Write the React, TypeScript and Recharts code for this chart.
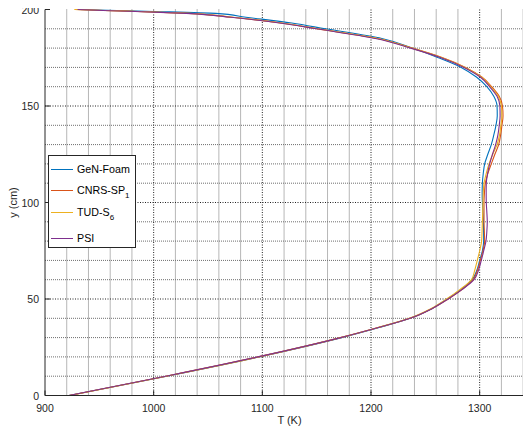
import { LineChart, Line, XAxis, YAxis, CartesianGrid, Legend } from 'recharts';

const FONT = '"Liberation Sans", Arial, Helvetica, sans-serif';

// height along the channel (cm)
const yPos = [0, 10, 20, 30, 35, 40, 45, 50, 55, 60, 65, 70, 75, 80, 85, 90, 95, 100, 105, 110, 115, 120, 125, 130, 135, 140, 145, 150, 155, 160, 165, 170, 175, 180, 185, 190, 193, 196, 198, 199, 199.5, 200];

// temperature (K) at yPos
const tGenFoam = [922, 1012, 1097, 1173, 1206, 1236, 1256, 1270, 1283, 1293, 1297.5, 1300, 1302.5, 1303.7, 1303.6, 1303.4, 1303, 1302.5, 1302.3, 1302.5, 1303.3, 1304.6, 1307.5, 1310.7, 1313, 1315, 1316.2, 1316, 1313, 1306.6, 1297, 1283, 1262, 1238, 1210, 1158, 1127, 1085, 1057, 1000, 966, 932];
const tCnrsSp1 = [922, 1011, 1096, 1172, 1205, 1236, 1256, 1271, 1284, 1294, 1298, 1300.6, 1303, 1304.6, 1304.3, 1304, 1304, 1304, 1304.4, 1305.2, 1307.5, 1310.7, 1314, 1317.5, 1319.3, 1320.5, 1321.5, 1321, 1318, 1311, 1302, 1287, 1266, 1238, 1206, 1150, 1117, 1072, 1032, 985, 955, 928];
const tTudS6 = [923, 1012, 1097, 1172, 1205, 1235, 1255, 1269.5, 1282, 1292.4, 1295.5, 1297.8, 1300, 1301.8, 1302.2, 1302.5, 1302.8, 1303, 1303.3, 1304, 1306, 1308.6, 1312, 1316, 1318.3, 1319.5, 1320.5, 1320, 1317, 1310, 1301.5, 1286.5, 1265.5, 1237.5, 1206, 1151, 1118, 1073, 1033, 986, 955, 927];
const tPsi = [922, 1011, 1096, 1172, 1205, 1236, 1256, 1271, 1284, 1294.8, 1299, 1301.5, 1303.7, 1305.8, 1306.6, 1307, 1306.6, 1306.1, 1306, 1306.1, 1307.3, 1309.2, 1311.8, 1314.7, 1316.8, 1318, 1318.8, 1318.6, 1316, 1309.2, 1300.5, 1285.5, 1264.5, 1236.5, 1204, 1150, 1116, 1071, 1030, 983, 953, 930];

const xTicks = [900, 1000, 1100, 1200, 1300];
const yTicks = [0, 50, 100, 150, 200];
const xMajorGrid = [1000, 1100, 1200, 1300];
const yMajorGrid = [50, 100, 150];
const xMinorGrid = [920, 940, 960, 980, 1020, 1040, 1060, 1080, 1120, 1140, 1160, 1180, 1220, 1240, 1260, 1280, 1320, 1340];
const yMinorGrid = [10, 20, 30, 40, 60, 70, 80, 90, 110, 120, 130, 140, 160, 170, 180, 190];

const series = [
  { key: 'gen', name: 'GeN-Foam', sub: '', color: '#0072BD' },
  { key: 'cnrs', name: 'CNRS-SP', sub: '1', color: '#D95319' },
  { key: 'tud', name: 'TUD-S', sub: '6', color: '#EDB120' },
  { key: 'psi', name: 'PSI', sub: '', color: '#7E2F8E' },
];

const rows = yPos.map((y, i) => ({
  y,
  gen: tGenFoam[i],
  cnrs: tCnrsSp1[i],
  tud: tTudS6[i],
  psi: tPsi[i],
}));

const XTick = (props: any) => {
  const { x, y, payload } = props;
  return (
    <g>
      <line x1={x} x2={x} y1={y} y2={y - 5} stroke="#262626" />
      <text x={x} y={y + 12} textAnchor="middle" dominantBaseline="central" fontSize={10.5} fontFamily={FONT} fill="#262626">
        {payload.value}
      </text>
    </g>
  );
};

const TopTick = (props: any) => {
  const { x, y } = props;
  return <line x1={x} x2={x} y1={y} y2={y + 5} stroke="#262626" />;
};

const YTick = (props: any) => {
  const { x, y, payload } = props;
  return (
    <g>
      <line x1={x} x2={x + 5} y1={y} y2={y} stroke="#262626" />
      <text x={x - 6} y={y} textAnchor="end" dominantBaseline="central" fontSize={10.5} fontFamily={FONT} fill="#262626">
        {payload.value}
      </text>
    </g>
  );
};

function LegendBox() {
  const rowY = [13, 34, 56, 82];
  return (
    <div
      style={{
        position: 'relative',
        width: 88,
        height: 93,
        border: '1px solid #262626',
        boxSizing: 'border-box',
        background: '#fff',
        fontFamily: FONT,
        fontSize: 10.7,
        color: '#000',
      }}
    >
      {series.map((s, i) => (
        <div
          key={s.key}
          style={{ position: 'absolute', left: 2, top: rowY[i] - 7, height: 14, lineHeight: '14px', display: 'flex', alignItems: 'center', whiteSpace: 'nowrap' }}
        >
          <span style={{ display: 'inline-block', width: 22, height: 0, borderTop: `1.5px solid ${s.color}`, marginRight: 4 }} />
          <span>
            {s.name}
            {s.sub && (
              <span style={{ fontSize: 8, position: 'relative', top: 4, lineHeight: 0 }}>{s.sub}</span>
            )}
          </span>
        </div>
      ))}
    </div>
  );
}

export default function App() {
  return (
    <div style={{ width: 523, height: 426, overflow: 'hidden', position: 'relative', marginTop: -8 }}>
      <LineChart width={540} height={426} layout="vertical" data={rows} margin={{ top: 9.5, right: 14, bottom: 0, left: 0 }}>
        <CartesianGrid horizontalValues={yMinorGrid} verticalValues={xMinorGrid} stroke="#6e6e6e" strokeDasharray="1 1" />
        <CartesianGrid horizontalValues={yMajorGrid} verticalValues={xMajorGrid} stroke="#222" strokeDasharray="1 1.5" />
        <XAxis
          type="number"
          domain={[900, 1350]}
          ticks={xTicks}
          interval={0}
          height={30.5}
          tickSize={0}
          tickMargin={0}
          tickLine={false}
          tick={<XTick />}
          axisLine={{ stroke: '#262626' }}
          label={{
            content: (p: any) => (
              <text
                x={p.viewBox.x + p.viewBox.width / 2}
                y={419.5}
                textAnchor="middle"
                dominantBaseline="central"
                fontSize={11}
                fontFamily={FONT}
                fill="#262626"
              >
                T (K)
              </text>
            ),
          }}
        />
        <XAxis
          xAxisId="top"
          orientation="top"
          type="number"
          domain={[900, 1350]}
          ticks={xTicks}
          interval={0}
          height={0}
          tickSize={0}
          tickMargin={0}
          tickLine={false}
          tick={<TopTick />}
          axisLine={{ stroke: '#262626' }}
        />
        <YAxis
          type="number"
          dataKey="y"
          domain={[0, 200]}
          ticks={yTicks}
          interval={0}
          reversed
          width={37}
          tickSize={0}
          tickMargin={0}
          tickLine={false}
          tick={<YTick />}
          axisLine={{ stroke: '#262626' }}
          label={{
            content: () => (
              <text
                x={5}
                y={202.5}
                transform="rotate(-90 5 202.5)"
                textAnchor="middle"
                dominantBaseline="central"
                fontSize={11}
                fontFamily={FONT}
                fill="#262626"
              >
                y (cm)
              </text>
            ),
          }}
        />
        {series.map((s) => (
          <Line
            key={s.key}
            dataKey={s.key}
            name={s.name}
            type="monotone"
            stroke={s.color}
            strokeWidth={1.1}
            dot={false}
            isAnimationActive={false}
          />
        ))}
        <Legend
          layout="vertical"
          align="center"
          verticalAlign="middle"
          content={() => <LegendBox />}
          wrapperStyle={{ left: 40, top: 155, width: 88, height: 93 }}
        />
      </LineChart>
    </div>
  );
}
